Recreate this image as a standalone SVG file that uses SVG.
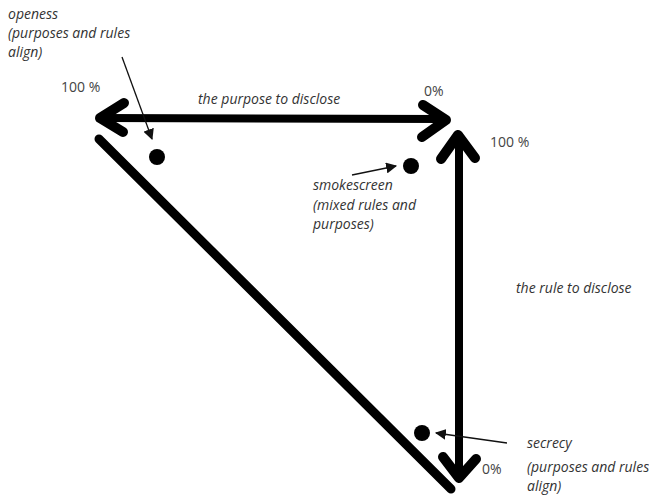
<svg xmlns="http://www.w3.org/2000/svg" width="649" height="495" viewBox="0 0 649 495">
  <defs>
    <marker id="tip" viewBox="0 0 10 10" refX="9" refY="5" markerWidth="11" markerHeight="11" markerUnits="userSpaceOnUse" orient="auto">
      <path d="M0,0 L10,5 L0,10 z" fill="#111"/>
    </marker>
    <style>
      .lbl { font-family: "Open Sans", "DejaVu Sans", sans-serif; font-size: 14px; font-style: italic; fill: #333; }
      .pct { font-family: "Open Sans", "DejaVu Sans", sans-serif; font-size: 14px; fill: #444; }
      .bold { stroke: #000; stroke-width: 8; stroke-linecap: round; stroke-linejoin: round; fill: none; }
      .head { stroke: #000; stroke-width: 10; stroke-linecap: round; stroke-linejoin: round; fill: none; }
      .thin { stroke: #111; stroke-width: 1.3; fill: none; }
      .dot { fill: #000; }
    </style>
  </defs>
  <rect width="649" height="495" fill="#fff"/>

  <g id="connectors">
    <!-- purpose axis -->
    <line class="bold" x1="102" y1="118" x2="444" y2="119"/>
    <polyline class="head" points="124,103 100,118 123,132"/>
    <polyline class="head" points="423,105 446,120 422,137"/>
    <!-- rule axis -->
    <line class="bold" x1="459" y1="136" x2="459" y2="477"/>
    <polyline class="head" points="441,159 458,135 475,158"/>
    <polyline class="head" points="443,457 459,478 476,459"/>
    <!-- hypotenuse -->
    <line class="bold" x1="99" y1="139" x2="451" y2="489" style="stroke-width:9"/>
    <!-- pointers -->
    <line class="thin" x1="122" y1="57" x2="152" y2="139" marker-end="url(#tip)"/>
    <line class="thin" x1="352" y1="175" x2="396" y2="166" marker-end="url(#tip)"/>
    <line class="thin" x1="507" y1="443" x2="436" y2="433" marker-end="url(#tip)"/>
  </g>

  <g id="openness">
    <circle class="dot" cx="157" cy="157" r="8"/>
    <text class="lbl" x="8" y="19">openess</text>
    <text class="lbl" x="8" y="38">(purposes and rules</text>
    <text class="lbl" x="8" y="57">align)</text>
  </g>

  <g id="smokescreen">
    <circle class="dot" cx="411" cy="166" r="8"/>
    <text class="lbl" x="313" y="190">smokescreen</text>
    <text class="lbl" x="313" y="210">(mixed rules and</text>
    <text class="lbl" x="313" y="229">purposes)</text>
  </g>

  <g id="secrecy">
    <circle class="dot" cx="422" cy="433" r="8"/>
    <text class="lbl" x="527" y="448">secrecy</text>
    <text class="lbl" x="527" y="472">(purposes and rules</text>
    <text class="lbl" x="527" y="491">align)</text>
  </g>

  <g id="axis-labels">
    <text class="pct" x="61" y="92">100 %</text>
    <text class="lbl" x="198" y="104">the purpose to disclose</text>
    <text class="pct" x="424" y="96">0%</text>
    <text class="pct" x="490" y="147">100 %</text>
    <text class="lbl" x="516" y="293">the rule to disclose</text>
    <text class="pct" x="482" y="474">0%</text>
  </g>
</svg>
